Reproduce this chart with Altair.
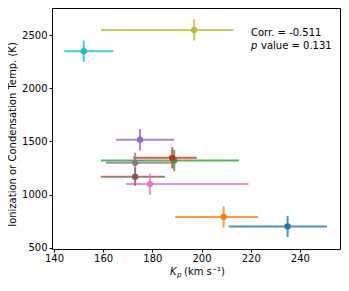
import altair as alt
import pandas as pd

names = ["a", "b", "c", "d", "e", "f", "g", "h", "i", "j"]
colors = ["#1f77b4", "#ff7f0e", "#2ca02c", "#d62728", "#9467bd",
          "#8c564b", "#e377c2", "#7f7f7f", "#bcbd22", "#17becf"]
kp = [235, 209, 188.9, 188.1, 175, 173, 179, 173, 197, 152.1]
kp_lo = [211, 189.3, 159.1, 172.2, 165.2, 159, 169.3, 161.1, 159.1, 144.2]
kp_hi = [251, 223, 215.2, 198, 188.9, 185.1, 219.1, 188.8, 213, 164.1]
temp = [700, 790, 1320, 1345, 1515, 1167, 1098, 1298, 2548, 2347]
temp_err = [100, 100, 100, 100, 100, 85, 100, 95, 100, 100]

df = pd.DataFrame({
    "name": names, "kp": kp, "kp_lo": kp_lo, "kp_hi": kp_hi, "temp": temp,
    "t_lo": [t - e for t, e in zip(temp, temp_err)],
    "t_hi": [t + e for t, e in zip(temp, temp_err)],
})

FONT = "DejaVu Sans"
xs = alt.Scale(domain=[139.2, 256.3], nice=False, zero=False)
ys = alt.Scale(domain=[488, 2754], nice=False, zero=False)
cs = alt.Scale(domain=names, range=colors)

xaxis = alt.Axis(values=[140, 160, 180, 200, 220, 240], title=None, grid=False,
                 format="d",
                 tickSize=3, labelPadding=1, labelFontSize=10, labelFont=FONT,
                 labelColor="black", tickColor="black", domain=False)
yaxis = alt.Axis(values=[500, 1000, 1500, 2000, 2500], grid=False, format="d",
                 title="Ionization or Condensation Temp. (K)", titleFont=FONT,
                 titleFontSize=10, titleFontWeight="normal", titleColor="black",
                 titleX=-40, titleY=126, titleAngle=-90, titleBaseline="middle",
                 tickSize=3, labelPadding=2, labelFontSize=10, labelFont=FONT,
                 labelColor="black", tickColor="black", domain=False)

base = alt.Chart(df)
hbar = base.mark_rule(strokeWidth=2, opacity=0.8).encode(
    x=alt.X("kp_lo:Q", scale=xs, axis=xaxis), x2="kp_hi:Q",
    y=alt.Y("temp:Q", scale=ys, axis=yaxis),
    color=alt.Color("name:N", scale=cs, legend=None))
vbar = base.mark_rule(strokeWidth=2, opacity=0.8).encode(
    x=alt.X("kp:Q", scale=xs), y=alt.Y("t_lo:Q", scale=ys), y2="t_hi:Q",
    color=alt.Color("name:N", scale=cs, legend=None))
pts = base.mark_circle(size=40, opacity=1).encode(
    x=alt.X("kp:Q", scale=xs), y=alt.Y("temp:Q", scale=ys),
    color=alt.Color("name:N", scale=cs, legend=None))

def txt(s, x, y, size=10, italic=False, align="left"):
    return alt.Chart(pd.DataFrame({"t": [s]})).mark_text(
        font=FONT, fontSize=size, fontStyle="italic" if italic else "normal",
        align=align, baseline="middle", color="black").encode(
        text="t:N", x=alt.value(x), y=alt.value(y))

annot = [
    txt("Corr. = -0.511", 199, 25),
    txt("p", 199, 38, italic=True),
    txt("value = 0.131", 209, 38),
    txt("K", 118, 264, italic=True),
    txt("p", 125, 267, size=7, italic=True),
    txt("(km s\u207b\u00b9)", 132, 264),
]

chart = alt.layer(hbar, vbar, pts, *annot).properties(
    width=288, height=241,
    autosize=alt.AutoSizeParams(type="none"),
    padding={"left": 44, "top": 0, "right": 1, "bottom": 34},
).configure_view(stroke="black", strokeWidth=1)

chart.save("out.html", embed_options={"renderer": "svg", "actions": False})
